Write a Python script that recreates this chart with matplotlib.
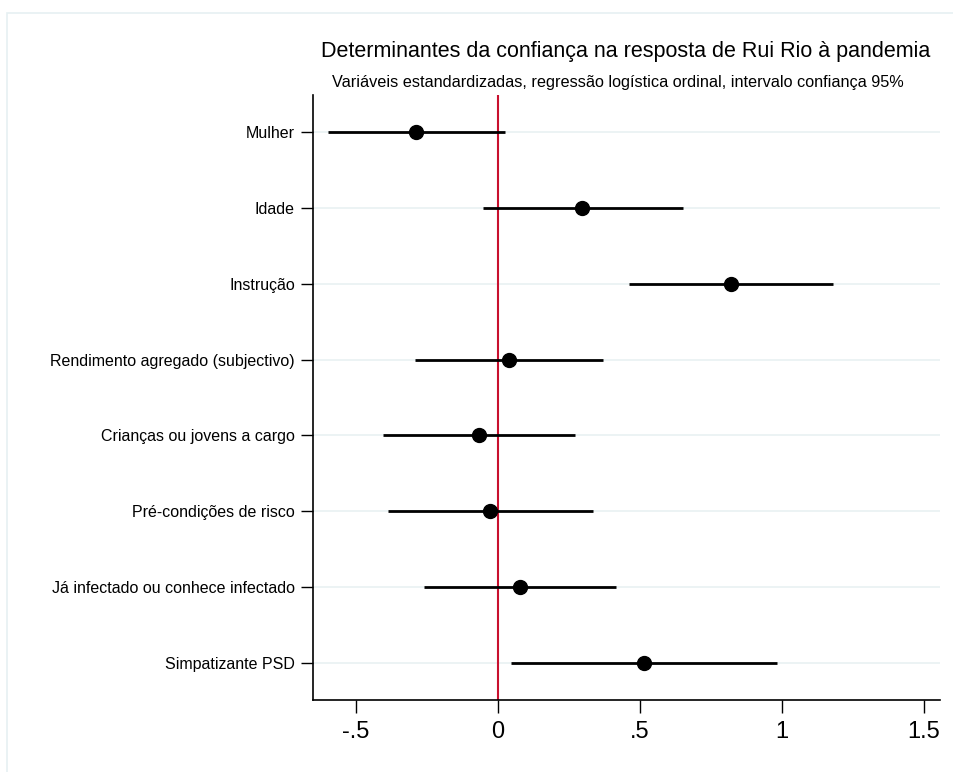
import numpy as np
import matplotlib.pyplot as plt
from matplotlib.patches import Rectangle

plt.rcParams['font.family'] = ['Liberation Sans', 'DejaVu Sans']

variaveis = ["Mulher", "Idade", "Instrução", "Rendimento agregado (subjectivo)",
             "Crianças ou jovens a cargo", "Pré-condições de risco",
             "Já infectado ou conhece infectado", "Simpatizante PSD"]
coef = [-0.289, 0.296, 0.820, 0.039, -0.067, -0.028, 0.077, 0.514]
ic_baixo = [-0.599, -0.053, 0.461, -0.292, -0.405, -0.387, -0.261, 0.046]
ic_alto = [0.025, 0.651, 1.180, 0.370, 0.271, 0.335, 0.415, 0.982]
xticks = [-0.5, 0, 0.5, 1, 1.5]
xtick_labels = ["-.5", "0", ".5", "1", "1.5"]

fig = plt.figure(figsize=(9.54, 7.72), dpi=100)
fig.patches.append(Rectangle((7 / 954, -0.1), 1.2, 1 - 13 / 772 + 0.1,
                             transform=fig.transFigure, fill=False,
                             edgecolor="#e6f0f2", linewidth=1.2))
ax = fig.add_axes([313 / 954, 1 - 700 / 772, (940 - 313) / 954, (700 - 95) / 772])

y = np.arange(1, len(variaveis) + 1)
for yi in y:
    ax.axhline(yi, color="#eaf2f3", linewidth=1.3, zorder=0)
ax.axvline(0, color="#c8102e", linewidth=1.5, zorder=1)
ax.hlines(y, ic_baixo, ic_alto, color="black", linewidth=2, zorder=2)
ax.plot(coef, y, "o", color="black", markersize=10, zorder=3)

ax.set_xlim(-0.651, 1.556)
ax.set_ylim(8.49, 0.51)
ax.set_yticks(y)
ax.set_yticklabels(variaveis, fontsize=11.5)
ax.set_xticks(xticks)
ax.set_xticklabels(xtick_labels, fontsize=17)
ax.tick_params(axis="y", length=9, width=1, pad=4)
ax.tick_params(axis="x", length=9, width=1, pad=6)
for s in ["top", "right"]:
    ax.spines[s].set_visible(False)
for s in ["left", "bottom"]:
    ax.spines[s].set_linewidth(1.2)

fig.text(626 / 954, 1 - 52 / 772, "Determinantes da confiança na resposta de Rui Rio à pandemia",
         ha="center", va="center", fontsize=15.5)
fig.text(618 / 954, 1 - 82 / 772,
         "Variáveis estandardizadas, regressão logística ordinal, intervalo confiança 95%",
         ha="center", va="center", fontsize=11.7)

fig.savefig("out.png", dpi=100)
